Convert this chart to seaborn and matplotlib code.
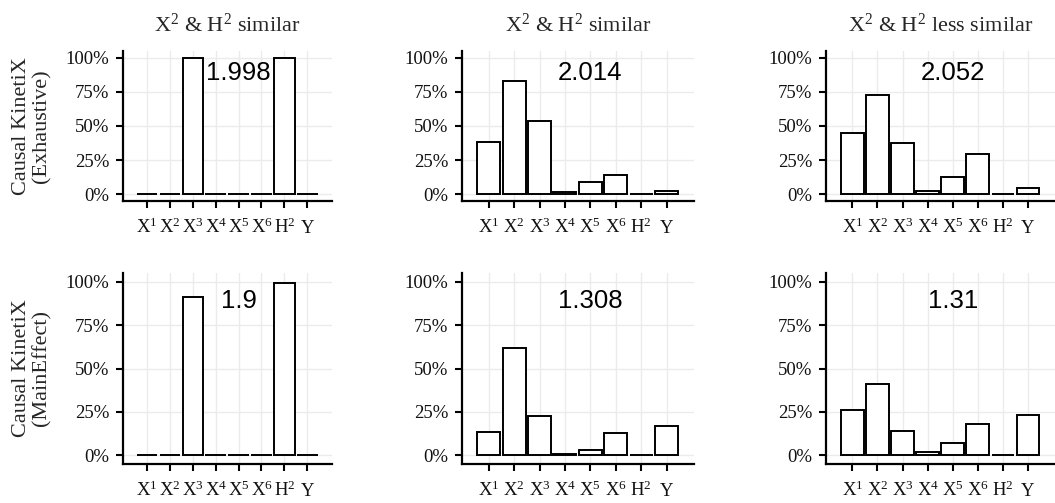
import matplotlib
matplotlib.use('Agg')
import matplotlib.pyplot as plt
import numpy as np
import pandas as pd
import seaborn as sns
from matplotlib.ticker import PercentFormatter

categories = ['X1', 'X2', 'X3', 'X4', 'X5', 'X6', 'H2', 'Y']
tick_labels = [r'$\mathrm{X}^1$', r'$\mathrm{X}^2$', r'$\mathrm{X}^3$', r'$\mathrm{X}^4$',
               r'$\mathrm{X}^5$', r'$\mathrm{X}^6$', r'$\mathrm{H}^2$', r'$\mathrm{Y}$']
exh_sim1 = [0.0, 0.0, 1.0, 0.0, 0.0, 0.0, 1.0, 0.0]
exh_sim2 = [0.382, 0.828, 0.534, 0.015, 0.093, 0.142, 0.0, 0.02]
exh_less = [0.449, 0.730, 0.375, 0.027, 0.125, 0.297, 0.0, 0.049]
main_sim1 = [0.0, 0.003, 0.909, 0.0, 0.0, 0.0, 0.990, 0.0]
main_sim2 = [0.133, 0.617, 0.229, 0.008, 0.031, 0.127, 0.0, 0.168]
main_less = [0.260, 0.412, 0.141, 0.017, 0.071, 0.183, 0.0, 0.233]
scores = [['1.998', '2.014', '2.052'], ['1.9', '1.308', '1.31']]
col_titles = [r'$\mathrm{X}^2$ & $\mathrm{H}^2$ similar',
              r'$\mathrm{X}^2$ & $\mathrm{H}^2$ similar',
              r'$\mathrm{X}^2$ & $\mathrm{H}^2$ less similar']
row_titles = ['Causal KinetiX\n(Exhaustive)', 'Causal KinetiX\n(MainEffect)']
yticks = [0, 0.25, 0.5, 0.75, 1.0]

values = [[exh_sim1, exh_sim2, exh_less], [main_sim1, main_sim2, main_less]]

sns.set_theme(style='white')
serif = ['Liberation Serif', 'DejaVu Serif']
plt.rcParams['font.family'] = serif
plt.rcParams['mathtext.fontset'] = 'custom'
plt.rcParams['mathtext.rm'] = 'Liberation Serif'
plt.rcParams['mathtext.it'] = 'Liberation Serif:italic'
plt.rcParams['mathtext.bf'] = 'Liberation Serif:bold'

W, H = 1055, 503
fig = plt.figure(figsize=(W / 100, H / 100), dpi=100)

col_x = [(123, 209), (462, 232), (826, 229)]
row_y = [(51, 201), (273, 464)]

for r in range(2):
    top, bot = row_y[r]
    for c in range(3):
        left, width = col_x[c]
        ax = fig.add_axes([left / W, 1 - bot / H, width / W, (bot - top) / H])
        df = pd.DataFrame({'var': categories, 'val': values[r][c]})
        sns.barplot(data=df, x='var', y='val', order=categories, ax=ax,
                    color='white', saturation=1, edgecolor='black',
                    linewidth=1.4, width=0.9, errorbar=None)
        ax.set_xlim(-1.05, 8.08)
        ax.set_ylim(-0.05, 1.05)
        ax.set_yticks(yticks)
        ax.yaxis.set_major_formatter(PercentFormatter(1.0, decimals=0))
        ax.set_xticks(range(len(categories)))
        ax.set_xticklabels(tick_labels)
        ax.set_xlabel('')
        ax.set_ylabel('')
        ax.grid(True, color='#ebebeb', lw=1.0)
        ax.set_axisbelow(True)
        for s in ['top', 'right']:
            ax.spines[s].set_visible(False)
        for s in ['left', 'bottom']:
            ax.spines[s].set_visible(True)
            ax.spines[s].set_color('black')
            ax.spines[s].set_linewidth(1.6)
        ax.tick_params(axis='both', which='major', length=5, width=1.5,
                       color='black', direction='out',
                       labelsize=13.5, labelcolor='#111111',
                       bottom=True, left=True)
        ax.tick_params(axis='x', pad=18)
        ax.tick_params(axis='y', pad=5)
        for lab in ax.get_xticklabels():
            lab.set_family(serif)
            lab.set_verticalalignment('baseline')
        for lab in ax.get_yticklabels():
            lab.set_family(serif)
        ax.text(4, 0.89, scores[r][c], ha='center', va='center',
                fontsize=18.5, family='Liberation Sans', color='black')
        if r == 0:
            ax.set_title(col_titles[c], fontsize=16, pad=13.5, family=serif)
        if c == 0:
            fig.text(32 / W, 1 - (top + bot) / 2 / H, row_titles[r],
                     rotation=90, ha='center', va='center', fontsize=16,
                     family=serif, linespacing=1.1)

fig.savefig('out.png', dpi=100, facecolor='white')
